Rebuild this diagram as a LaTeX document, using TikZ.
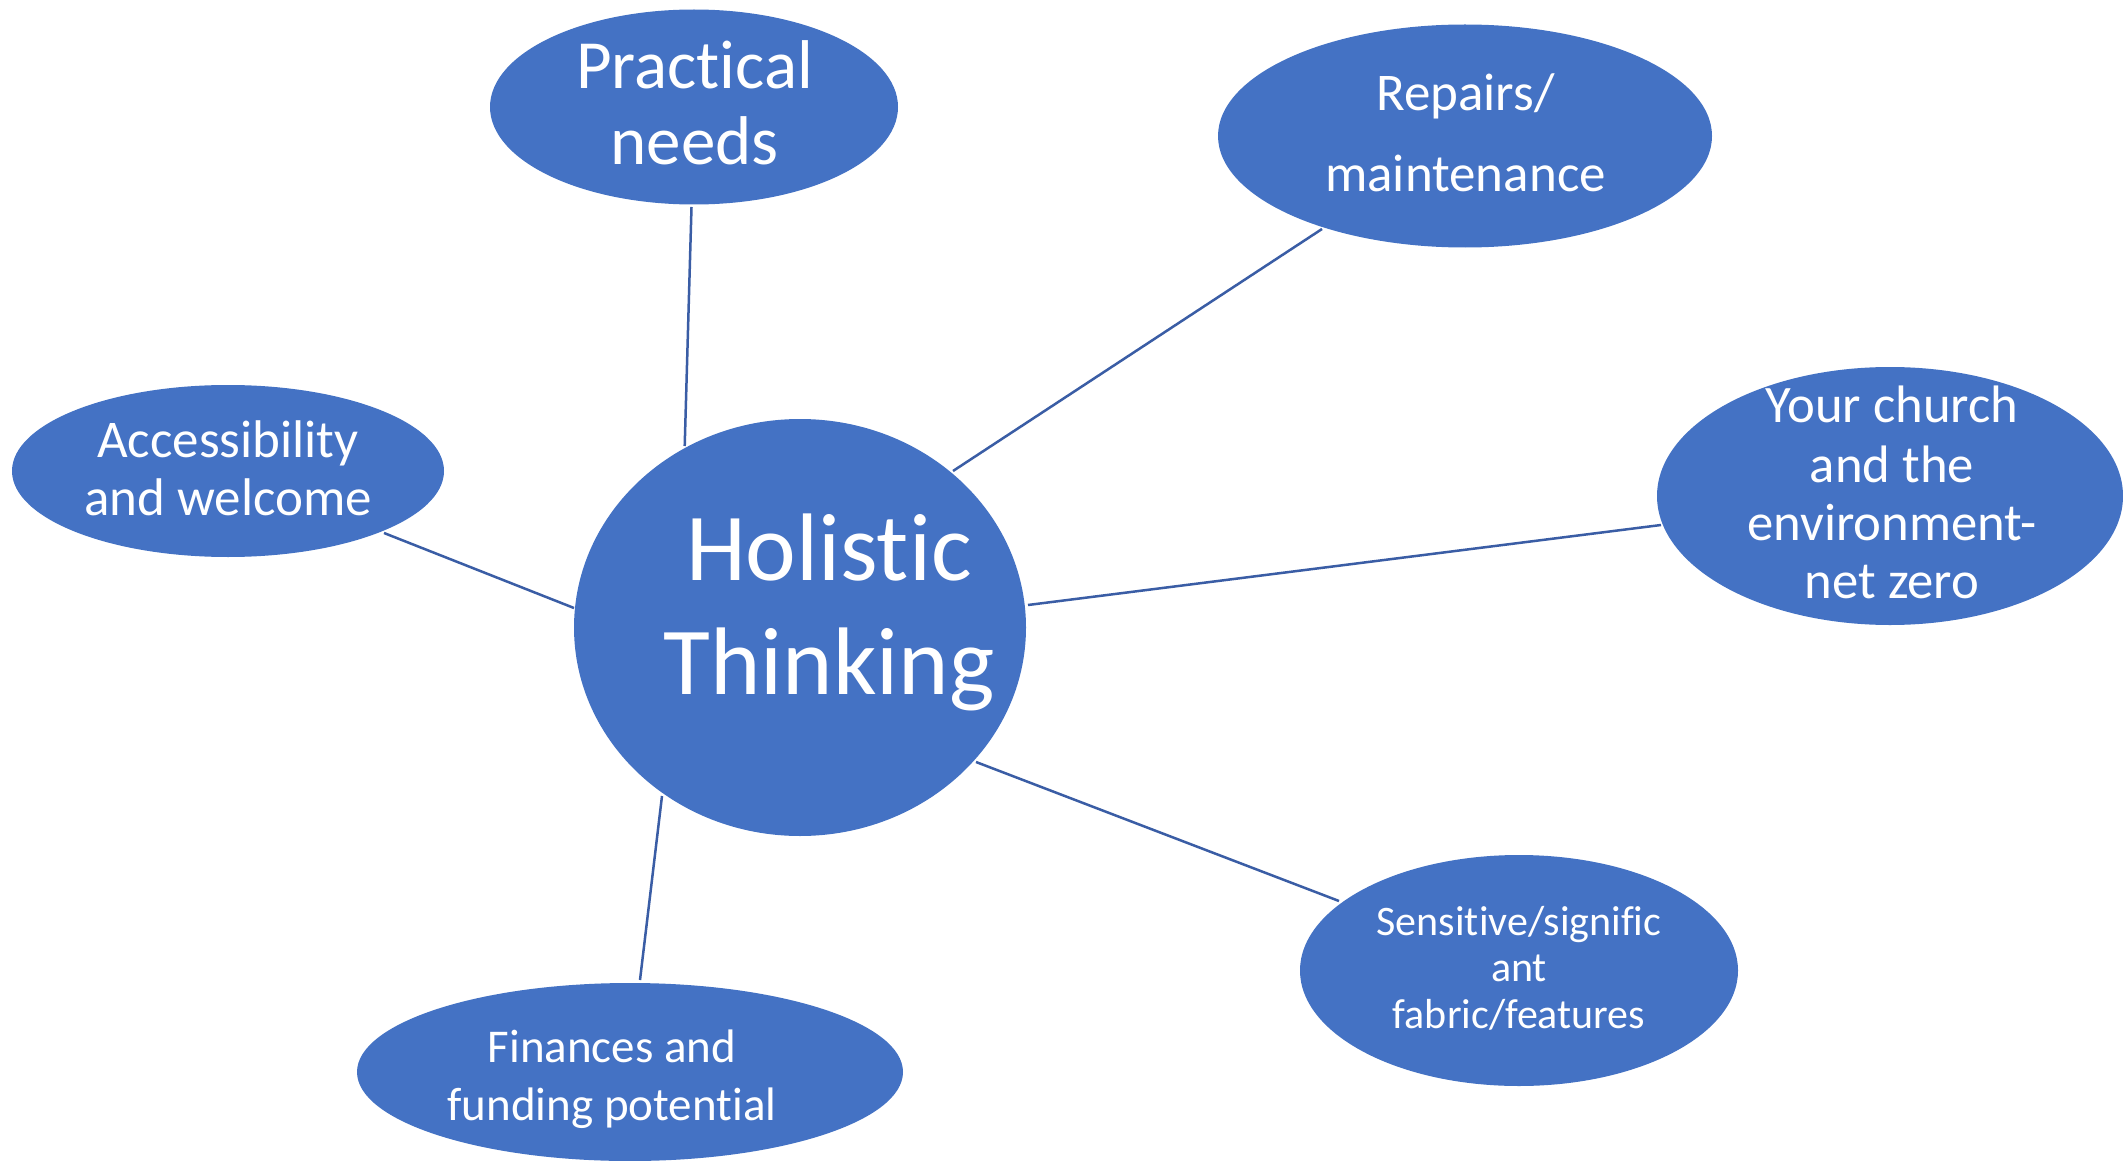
\documentclass[tikz,border=0pt]{standalone}
\usepackage{fontspec}
\setmainfont{Carlito}[Ligatures=NoCommon]
\usetikzlibrary{shapes.geometric}
\definecolor{fillblue}{HTML}{4472C4}
\definecolor{lineblue}{HTML}{3A5DA5}
\begin{document}
\begin{tikzpicture}[x=1pt,y=-1pt,
  bubble/.style={ellipse,fill=fillblue,draw=none,inner sep=0pt},
  lbl/.style={anchor=base,text=white,inner sep=0pt},
  link/.style={draw=lineblue,line width=2.5pt}]
\useasboundingbox[fill=white] (0,0) rectangle (2123,1161);
% connector end points
\coordinate (pnA) at (691.5,207);  \coordinate (pnB) at (684.7,446);
\coordinate (awA) at (384,533);    \coordinate (awB) at (574,608);
\coordinate (rmA) at (1322,229);   \coordinate (rmB) at (953,471);
\coordinate (ycA) at (1661,525);   \coordinate (ycB) at (1028,605);
\coordinate (sfA) at (1339,901);   \coordinate (sfB) at (976,762);
\coordinate (ffA) at (640,980);    \coordinate (ffB) at (662,796);
\draw[link] (pnA) -- (pnB);
\draw[link] (awA) -- (awB);
\draw[link] (rmA) -- (rmB);
\draw[link] (ycA) -- (ycB);
\draw[link] (sfA) -- (sfB);
\draw[link] (ffA) -- (ffB);
% bubbles
\node[bubble,minimum width=452pt,minimum height=417pt] (ht) at (800,627.5) {};
\node[bubble,minimum width=408pt,minimum height=195pt] (pn) at (694,107) {};
\node[bubble,minimum width=432pt,minimum height=172pt] (aw) at (228,471) {};
\node[bubble,minimum width=494pt,minimum height=223pt] (rm) at (1465,136) {};
\node[bubble,minimum width=466pt,minimum height=258pt] (yc) at (1890,496) {};
\node[bubble,minimum width=438pt,minimum height=231pt] (sf) at (1519,970.5) {};
\node[bubble,minimum width=546pt,minimum height=178pt] (ff) at (630,1072) {};
% texts
\node[lbl,font=\fontsize{96}{113}\selectfont] (ht1) at (829,580.7) {Holistic};
\node[lbl,font=\fontsize{96}{113}\selectfont] (ht2) at (829,694) {Thinking};
\node[lbl,font=\fontsize{69}{76}\selectfont] (pn1) at (694.5,88.8) {Practical};
\node[lbl,font=\fontsize{69}{76}\selectfont] (pn2) at (694.5,164.6) {needs};
\node[lbl,font=\fontsize{53}{58}\selectfont] (aw1) at (228,457) {Accessibility};
\node[lbl,font=\fontsize{53}{58}\selectfont] (aw2) at (228,515.4) {and welcome};
\node[lbl,font=\fontsize{53}{58}\selectfont] (rm1) at (1465.5,110.2) {Repairs/};
\node[lbl,font=\fontsize{53}{58}\selectfont] (rm2) at (1465.5,191.3) {maintenance};
\node[lbl,font=\fontsize{52.7}{58}\selectfont] (yc1) at (1892,422.9) {Your church};
\node[lbl,font=\fontsize{52.7}{58}\selectfont] (yc2) at (1892,482) {and the};
\node[lbl,font=\fontsize{52.7}{58}\selectfont] (yc3) at (1892,540) {environment-};
\node[lbl,font=\fontsize{52.7}{58}\selectfont] (yc4) at (1892,598.5) {net zero};
\node[lbl,font=\fontsize{42}{46}\selectfont] (sf1) at (1519,935) {Sensitive/signific};
\node[lbl,font=\fontsize{42}{46}\selectfont] (sf2) at (1519,981.7) {ant};
\node[lbl,font=\fontsize{42}{46}\selectfont] (sf3) at (1519,1028.3) {fabric/features};
\node[lbl,font=\fontsize{47}{58}\selectfont] (ff1) at (612,1062.3) {Finances and};
\node[lbl,font=\fontsize{47}{58}\selectfont] (ff2) at (612,1120) {funding potential};
\end{tikzpicture}
\end{document}
